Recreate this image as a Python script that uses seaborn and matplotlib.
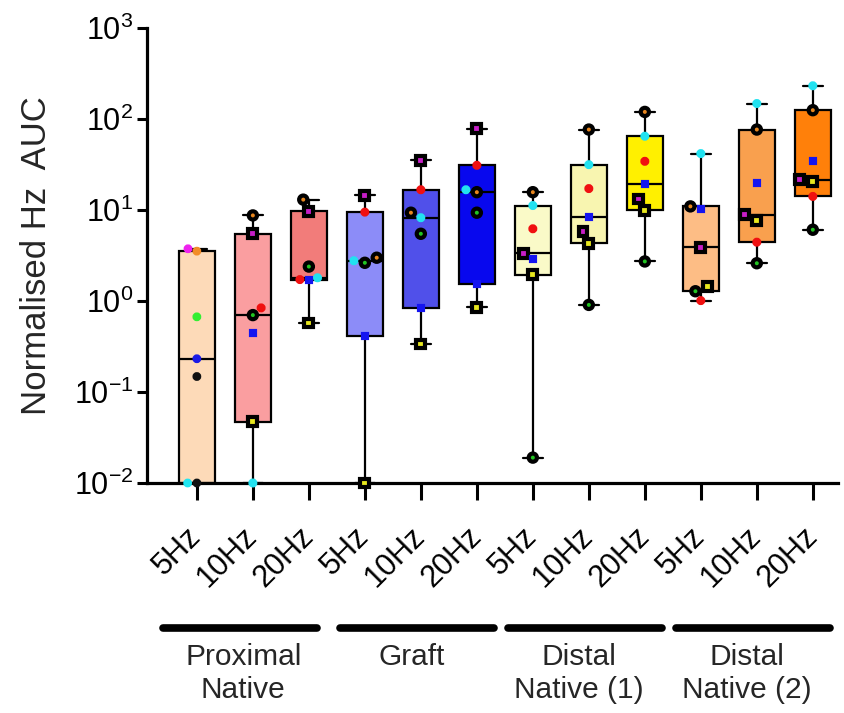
import numpy as np
import pandas as pd
import matplotlib
matplotlib.use("Agg")
import matplotlib.pyplot as plt
import matplotlib.transforms as mtransforms
from matplotlib.markers import MarkerStyle
from matplotlib.ticker import LogLocator, NullLocator
import seaborn as sns

# ---------------- data ----------------
groups = ["Proximal\nNative", "Graft", "Distal\nNative (1)", "Distal\nNative (2)"]
freqs = ["5Hz", "10Hz", "20Hz"]
animals = ["orange", "magenta", "green", "blue", "red", "cyan", "yellow"]

# one value per condition (group x frequency), in plotting order
orange  = [3.53, 8.72, 13.0, 2.99, 9.34, 15.7, 15.7, 76.6, 119.7, 10.96, 76.6, 125.0]
magenta = [3.75, 5.48, 9.72, 14.5, 35.2, 78.6, 3.35, 5.81, 13.2, 3.90, 8.88, 21.6]
green   = [0.67, 0.70, 2.39, 2.63, 5.48, 9.34, 0.019, 0.906, 2.72, 1.28, 2.60, 6.07]
blue    = [0.232, 0.44, 1.70, 0.413, 0.84, 1.54, 2.91, 8.36, 19.1, 10.3, 19.8, 34.3]
red     = [0.148, 0.84, 1.72, 9.48, 16.7, 31.0, 6.22, 17.2, 34.3, 1.01, 4.43, 14.1]
cyan    = [0.01, 0.01, 1.80, 2.77, 8.23, 16.7, 11.2, 31.5, 64.7, 41.7, 148.0, 232.0]
yellow  = [0.01, 0.047, 0.574, 0.01, 0.337, 0.853, 1.94, 4.32, 9.9, 1.44, 7.68, 20.6]
series = dict(orange=orange, magenta=magenta, green=green, blue=blue,
              red=red, cyan=cyan, yellow=yellow)

box_colors = ["#FDDAB8", "#FA9EA0", "#F27C7A",
              "#8C8CF8", "#5050EA", "#0808EE",
              "#FAFAC8", "#F8F5B0", "#FFF000",
              "#FDBD85", "#F9A04E", "#FF800A"]

# ---------------- styles ----------------
animal_color = {"orange": "#E8861E", "magenta": "#C81EC8", "green": "#22C422",
                "blue": "#1414F0", "red": "#F01010", "cyan": "#22E2F0",
                "yellow": "#E8E81E"}
animal_kind = {"orange": "ring", "magenta": "sqbox", "green": "ring",
               "blue": "square", "red": "dot", "cyan": "dot", "yellow": "sqbox"}
# first condition (Proximal Native 5Hz) is drawn with plain dots
plain_color = {"orange": "#F28C28", "magenta": "#EE22EE", "green": "#33EE33",
               "blue": "#1A1AE6", "red": "#111111", "cyan": "#22E6F0",
               "yellow": "#111111"}
bar_shift = [-0.15, 0.0, 0.0, 0.0]

cond_order = [f"{g.replace(chr(10), ' ')} {f}" for g in groups for f in freqs]
rows = []
for ci, cond in enumerate(cond_order):
    for a in animals:
        rows.append(dict(cond=cond, ci=ci, animal=a, value=series[a][ci]))
df = pd.DataFrame(rows)

# ---------------- figure ----------------
sns.set_theme(style="ticks")
plt.rcParams["font.family"] = ["Liberation Sans", "DejaVu Sans"]
plt.rcParams["mathtext.default"] = "regular"
plt.rcParams["axes.unicode_minus"] = False

fig = plt.figure(figsize=(8.44, 7.13), dpi=100)
ax = fig.add_axes([0.1742, 0.3226, 0.8187, 0.6381])

EDGE = 3.0
n_before = len(ax.collections)
sns.swarmplot(data=df, x="cond", y="value", order=cond_order, color="black",
              size=6.2, linewidth=EDGE, log_scale=True, ax=ax, zorder=4,
              clip_on=False)
colls = ax.collections[n_before:]


def mpath(m):
    ms = MarkerStyle(m)
    return ms.get_path().transformed(ms.get_transform())


circ, sq = mpath("o"), mpath("s")
for ci, coll in enumerate(colls):
    sub = df[df["ci"] == ci]
    paths, sizes, fcs, ecs = [], [], [], []
    for a in sub["animal"]:
        if ci == 0:
            c = plain_color[a]
            paths.append(circ); sizes.append(11); fcs.append(c); ecs.append(c)
            continue
        kind = animal_kind[a]
        col = animal_color[a]
        if kind == "ring":
            paths.append(circ); sizes.append(35); fcs.append(col); ecs.append("black")
        elif kind == "sqbox":
            paths.append(sq); sizes.append(40); fcs.append(col); ecs.append("black")
        elif kind == "square":
            paths.append(sq); sizes.append(8); fcs.append(col); ecs.append(col)
        else:
            paths.append(circ); sizes.append(12); fcs.append(col); ecs.append(col)
    coll.set_paths(paths)
    coll.set_sizes(np.array(sizes, dtype=float))
    coll.set_facecolors(fcs)
    coll.set_edgecolors(ecs)
    coll.set_linewidth(EDGE)
    coll.set_joinstyle("miter")

# boxes (Prism-style quartiles, whiskers min to max)
stats = []
for ci in range(len(cond_order)):
    v = np.sort(df.loc[df["ci"] == ci, "value"].to_numpy())
    q1, med, q3 = np.percentile(v, [25, 50, 75], method="weibull")
    stats.append(dict(med=med, q1=q1, q3=q3, whislo=v.min(), whishi=v.max(),
                      fliers=[]))
lw = 1.6
bp = ax.bxp(stats, positions=range(len(cond_order)), widths=0.64,
            capwidths=0.36, patch_artist=True, showfliers=False,
            manage_ticks=False,
            boxprops=dict(edgecolor="black", linewidth=lw, zorder=2),
            medianprops=dict(color="black", linewidth=lw, zorder=2.5),
            whiskerprops=dict(color="black", linewidth=lw, zorder=1.5),
            capprops=dict(color="black", linewidth=lw, zorder=1.5))
for patch, c in zip(bp["boxes"], box_colors):
    patch.set_facecolor(c)

# axes
ax.set_ylim(0.01, 1000)
ax.set_xlim(-0.89, 11.45)
ax.yaxis.set_major_locator(LogLocator(base=10, numticks=10))
ax.yaxis.set_minor_locator(NullLocator())
ax.set_xticks(range(len(cond_order)))
ax.set_xticklabels(freqs * len(groups), rotation=45, ha="right", va="center",
                   rotation_mode="anchor")
shift = mtransforms.ScaledTranslation(-0.04, 0, fig.dpi_scale_trans)
for lab in ax.get_xticklabels():
    lab.set_transform(lab.get_transform() + shift)
ax.set_xlabel("")
ax.set_ylabel("Normalised Hz  AUC", fontsize=25, labelpad=15)
for s in ["top", "right"]:
    ax.spines[s].set_visible(False)
for s in ["left", "bottom"]:
    ax.spines[s].set_linewidth(2.3)
    ax.spines[s].set_color("black")
ax.tick_params(axis="both", colors="black", width=2.2, labelsize=22)
ax.tick_params(axis="x", length=12, pad=23)
ax.tick_params(axis="y", length=7, pad=3)

# group bars and labels
trans = mtransforms.blended_transform_factory(ax.transData, ax.transAxes)
for gi, g in enumerate(groups):
    i0 = gi * 3
    ax.plot([i0 - 0.45 + bar_shift[gi], i0 + 2.3 + bar_shift[gi]],
            [-0.319, -0.319], transform=trans,
            color="black", lw=5.5, solid_capstyle="round", clip_on=False)
    ax.text(i0 + 0.83, -0.352, g, transform=trans, ha="center", va="top",
            fontsize=21.5, linespacing=1.2)

fig.savefig("out.png", dpi=100)
